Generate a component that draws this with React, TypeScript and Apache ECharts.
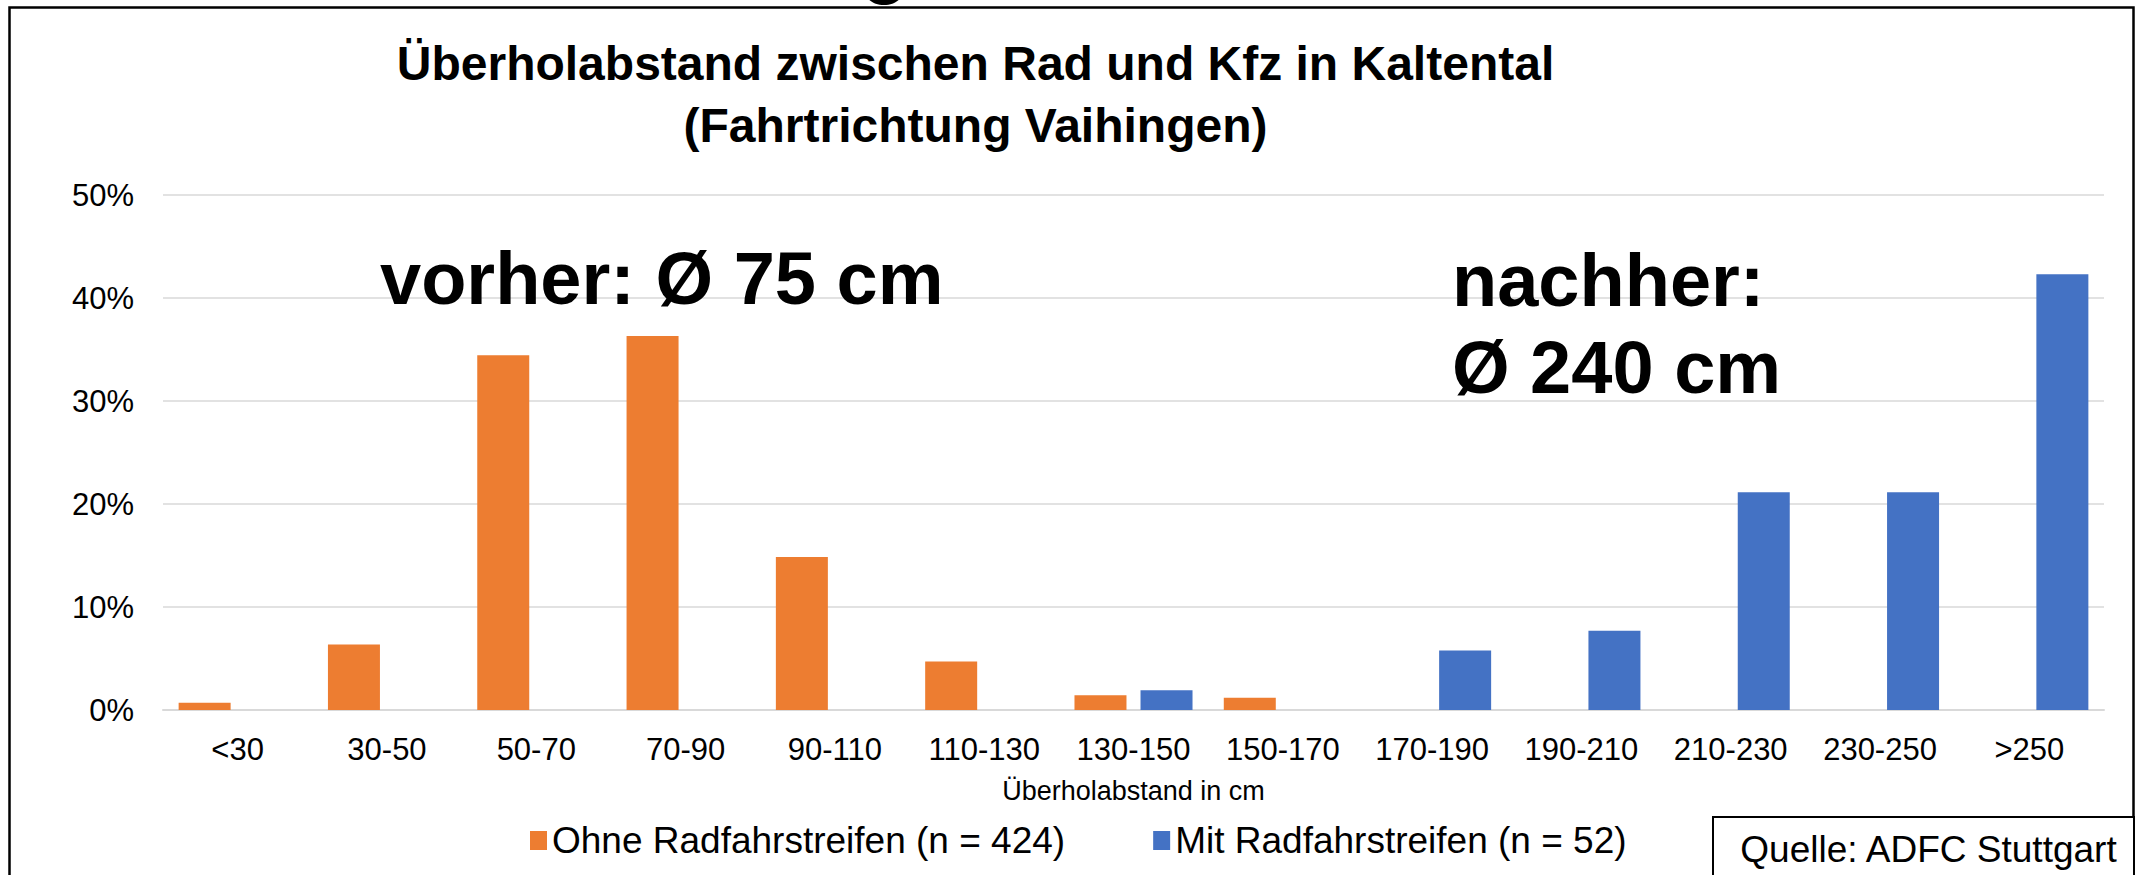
import React, { useEffect, useRef } from 'react';
import * as echarts from 'echarts';

const categories = ['<30', '30-50', '50-70', '70-90', '90-110', '110-130', '130-150', '150-170', '170-190', '190-210', '210-230', '230-250', '>250'];
const ohneName = 'Ohne Radfahrstreifen (n = 424)';
const mitName = 'Mit Radfahrstreifen (n = 52)';
const ohneValues = [0.71, 6.37, 34.43, 36.32, 14.86, 4.72, 1.42, 1.18, 0, 0, 0, 0, 0];
const mitValues = [0, 0, 0, 0, 0, 0, 1.92, 0, 5.77, 7.69, 21.15, 21.15, 42.31];
const titleLines = ['Überholabstand zwischen Rad und Kfz in Kaltental', '(Fahrtrichtung Vaihingen)'];
const xAxisName = 'Überholabstand in cm';
const noteBefore = 'vorher: Ø 75 cm';
const noteAfter = ['nachher:', 'Ø 240 cm'];
const sourceText = 'Quelle: ADFC Stuttgart';

const FONT = '"Liberation Sans", Arial, Helvetica, sans-serif';

export default function App() {
  const ref = useRef<HTMLDivElement>(null);
  useEffect(() => {
    if (!ref.current) return;
    const chart = echarts.init(ref.current, undefined, { renderer: 'svg' });
    chart.setOption({
      animation: false,
      backgroundColor: '#ffffff',
      textStyle: { fontFamily: FONT },
      grid: { left: 163, right: 37, top: 195, bottom: 165, containLabel: false },
      legend: {
        left: 525,
        top: 817,
        itemWidth: 17,
        itemHeight: 19,
        itemGap: 88,
        icon: 'rect',
        textStyle: { fontSize: 37, color: '#000', fontFamily: FONT },
        data: [ohneName, mitName],
      },
      xAxis: {
        type: 'category',
        data: categories,
        name: xAxisName,
        nameLocation: 'middle',
        nameGap: 67,
        nameTextStyle: { fontSize: 27, color: '#000', fontFamily: FONT },
        axisLine: { show: true, lineStyle: { color: '#d9d9d9', width: 2 } },
        axisTick: { show: false },
        axisLabel: { fontSize: 31, color: '#000', margin: 24, interval: 0, fontFamily: FONT },
      },
      yAxis: {
        type: 'value',
        min: 0,
        max: 50,
        interval: 10,
        axisLine: { show: false },
        axisTick: { show: false },
        axisLabel: { fontSize: 31, color: '#000', margin: 29, formatter: '{value}%', fontFamily: FONT },
        splitLine: { show: true, lineStyle: { color: '#d9d9d9', width: 1.5 } },
      },
      series: [
        {
          name: ohneName,
          type: 'bar',
          data: ohneValues,
          barWidth: 52,
          barGap: '27%',
          itemStyle: { color: '#ED7D31' },
        },
        {
          name: mitName,
          type: 'bar',
          data: mitValues,
          barWidth: 52,
          barGap: '27%',
          itemStyle: { color: '#4472C4' },
        },
      ],
      graphic: [
        {
          type: 'rect',
          shape: { x: 9.5, y: 7.5, width: 2124, height: 900 },
          style: { fill: 'none', stroke: '#000', lineWidth: 2.5 },
          silent: true,
          z: 100,
        },
        {
          type: 'ellipse',
          shape: { cx: 884, cy: -7, rx: 18, ry: 12 },
          style: { fill: '#000' },
          silent: true,
          z: 100,
        },
        {
          type: 'text',
          x: 975.5,
          y: 63,
          z: 50,
          style: { text: titleLines[0], font: `bold 48px ${FONT}`, fill: '#000', align: 'center', verticalAlign: 'middle' },
        },
        {
          type: 'text',
          x: 975.5,
          y: 125,
          z: 50,
          style: { text: titleLines[1], font: `bold 48px ${FONT}`, fill: '#000', align: 'center', verticalAlign: 'middle' },
        },
        {
          type: 'text',
          x: 380,
          y: 278,
          z: 50,
          style: { text: noteBefore, font: `bold 74px ${FONT}`, fill: '#000', align: 'left', verticalAlign: 'middle' },
        },
        {
          type: 'text',
          x: 1452,
          y: 280,
          z: 50,
          style: { text: noteAfter[0], font: `bold 74px ${FONT}`, fill: '#000', align: 'left', verticalAlign: 'middle' },
        },
        {
          type: 'text',
          x: 1452,
          y: 367,
          z: 50,
          style: { text: noteAfter[1], font: `bold 74px ${FONT}`, fill: '#000', align: 'left', verticalAlign: 'middle' },
        },
        {
          type: 'rect',
          shape: { x: 1713, y: 817, width: 421, height: 80 },
          style: { fill: '#fff', stroke: '#000', lineWidth: 2 },
          z: 101,
        },
        {
          type: 'text',
          x: 1928.5,
          y: 849,
          z: 102,
          style: { text: sourceText, font: `37px ${FONT}`, fill: '#000', align: 'center', verticalAlign: 'middle' },
        },
      ],
    });
    return () => chart.dispose();
  }, []);
  return <div ref={ref} style={{ position: 'absolute', left: 0, top: 0, width: 2141, height: 875 }} />;
}
